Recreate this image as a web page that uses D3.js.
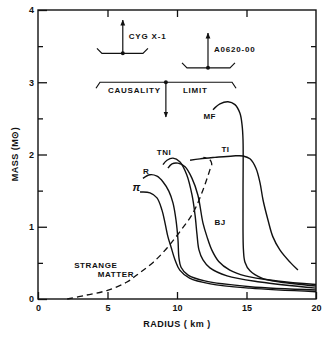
<!DOCTYPE html>
<html>
<head>
<meta charset="utf-8">
<script src="https://cdn.jsdelivr.net/npm/d3@7"></script>
<style>
  body { margin: 0; background: #fff; }
  text { font-family: "Liberation Sans", Arial, sans-serif; font-weight: bold; fill: #111; }
</style>
</head>
<body>
<script>
// axis ticks
const xTicks = [0, 5, 10, 15, 20];
const yTicks = [0, 1, 2, 3, 4];
const yMinor = [0.5, 1.5, 2.5, 3.5];

// mass-radius curves, [radius km, mass Msun]
const curvePi = [[7.34,1.48],[8.06,1.47],[8.56,1.40],[8.92,1.23],[9.14,1.05],[9.35,0.86],[9.57,0.72],[9.86,0.54],[10.2,0.40],[10.9,0.29],[12.4,0.21],[15.25,0.15],[20,0.10]];
const curveR = [[7.55,1.67],[8.06,1.72],[8.56,1.70],[9.0,1.62],[9.42,1.49],[9.71,1.33],[9.93,1.09],[10.07,0.82],[10.14,0.57],[10.29,0.44],[10.8,0.33],[12.0,0.25],[15.25,0.17],[20,0.125]];
const curveTNI = [[8.99,1.86],[9.28,1.92],[9.71,1.95],[10.2,1.90],[10.7,1.72],[11.08,1.44],[11.3,1.16],[11.44,0.89],[11.58,0.68],[11.87,0.54],[12.37,0.43],[13.6,0.32],[15.97,0.235],[20,0.15]];
const curveBJ = [[9.35,1.81],[9.64,1.87],[10.07,1.88],[10.58,1.83],[11.08,1.67],[11.5,1.44],[11.87,1.05],[12.16,0.86],[12.5,0.68],[13.0,0.52],[13.8,0.40],[14.9,0.32],[17.2,0.25],[20,0.20]];
const curveTI = [[10.94,1.92],[11.65,1.94],[12.73,1.96],[14.03,1.98],[14.75,1.98],[15.25,1.94],[15.68,1.81],[15.97,1.61],[16.19,1.37],[16.55,1.09],[16.9,0.86],[17.4,0.68],[18.13,0.51],[18.7,0.40]];
const curveMF = [[12.59,2.62],[13.09,2.70],[13.67,2.73],[14.17,2.69],[14.53,2.57],[14.68,2.41],[14.75,2.20],[14.75,1.37],[14.78,0.68],[14.89,0.51],[15.25,0.39],[16.1,0.29],[17.4,0.235],[20,0.18]];
const curveStrange = [[2.1,0.0],[3.5,0.055],[5.0,0.12],[6.4,0.235],[7.3,0.36],[8.3,0.51],[9.3,0.71],[10.2,0.93],[11.15,1.19],[11.87,1.51],[12.37,1.79],[12.5,1.87],[12.35,1.93],[11.9,1.96]];

// curve labels: name, radius, mass
const curveLabels = [["π",6.8,1.49],["R",7.55,1.73],["TNI",8.55,1.99],["BJ",12.7,1.02],["TI",13.2,2.03],["MF",11.9,2.49]];

// observational limits: name, radius of arrow, mass, bar from, bar to, arrow tip
const limitNames = ["CYG X-1", "A0620-00"];
const limitR = [6.1, 12.23];
const limitM = [3.40, 3.20];
const limitFrom = [4.6, 10.72];
const limitTo = [7.55, 13.81];
const limitTip = [3.86, 3.68];

// causality limit
const causalM = 3.0;
const causalFrom = 4.46;
const causalTo = 13.96;
const causalR = 9.2;
const causalTip = 2.52;

const svg = d3.select("body").append("svg")
  .attr("width", 327)
  .attr("height", 338);

const x = d3.scaleLinear().domain([0, 20]).range([38, 316]);
const y = d3.scaleLinear().domain([0, 4]).range([299, 10]);

// arrowhead
svg.append("defs").append("marker")
  .attr("id", "head")
  .attr("viewBox", "0 0 10 10")
  .attr("refX", 9).attr("refY", 5)
  .attr("markerWidth", 5).attr("markerHeight", 7)
  .attr("orient", "auto")
  .append("path")
  .attr("d", "M0,1L10,5L0,9Z")
  .attr("fill", "#111");

// frame
svg.append("rect")
  .attr("x", x(0)).attr("y", y(4))
  .attr("width", x(20) - x(0)).attr("height", y(0) - y(4))
  .attr("fill", "none").attr("stroke", "#111").attr("stroke-width", 1.4);

// axes with inward ticks
function styleAxis(g) {
  g.select(".domain").remove();
  g.selectAll("line").attr("stroke", "#111").attr("stroke-width", 1.3);
  g.selectAll("text").style("font-size", "9px").style("font-weight", "bold")
    .style("font-family", "'Liberation Sans', Arial, sans-serif").attr("fill", "#111");
}
svg.append("g").attr("transform", `translate(0,${y(0)})`)
  .call(d3.axisBottom(x).tickValues(xTicks).tickSize(-7).tickPadding(6).tickFormat(d3.format("d")))
  .call(styleAxis);
svg.append("g").attr("transform", `translate(0,${y(4)})`)
  .call(d3.axisTop(x).tickValues(xTicks.slice(1, -1)).tickSize(-7).tickFormat(""))
  .call(styleAxis);
svg.append("g").attr("transform", `translate(${x(0)},0)`)
  .call(d3.axisLeft(y).tickValues(yTicks).tickSize(-9).tickPadding(4).tickFormat(d3.format("d")))
  .call(styleAxis);
svg.append("g").attr("transform", `translate(${x(0)},0)`)
  .call(d3.axisLeft(y).tickValues(yMinor).tickSize(-5).tickFormat(""))
  .call(styleAxis);
svg.append("g").attr("transform", `translate(${x(20)},0)`)
  .call(d3.axisRight(y).tickValues(yTicks.slice(1, -1)).tickSize(-9).tickFormat(""))
  .call(styleAxis);
svg.append("g").attr("transform", `translate(${x(20)},0)`)
  .call(d3.axisRight(y).tickValues(yMinor).tickSize(-5).tickFormat(""))
  .call(styleAxis);

// axis titles
svg.append("text")
  .attr("x", x(10)).attr("y", 327)
  .attr("text-anchor", "middle")
  .style("font-size", "9px").style("letter-spacing", "0.5px")
  .text("RADIUS ( km )");
svg.append("text")
  .attr("transform", "translate(18,154)rotate(-90)")
  .attr("text-anchor", "middle")
  .style("font-size", "9px").style("letter-spacing", "0.5px")
  .text("MASS (M⊙)");

// curves
const line = d3.line()
  .x(d => x(d[0]))
  .y(d => y(d[1]))
  .curve(d3.curveCatmullRom.alpha(0.5));

[curvePi, curveR, curveTNI, curveBJ, curveTI, curveMF].forEach(c => {
  svg.append("path")
    .attr("d", line(c))
    .attr("fill", "none")
    .attr("stroke", "#111")
    .attr("stroke-width", 1.4);
});

svg.append("path")
  .attr("d", line(curveStrange))
  .attr("fill", "none")
  .attr("stroke", "#111")
  .attr("stroke-width", 1.3)
  .attr("stroke-dasharray", "6,4");

curveLabels.forEach(l => {
  svg.append("text")
    .attr("x", x(l[1])).attr("y", y(l[2]))
    .style("font-size", l[0] == "π" ? "11px" : "8px")
    .style("font-style", l[0] == "π" ? "italic" : "normal")
    .style("letter-spacing", "0.5px")
    .text(l[0]);
});

svg.append("text")
  .attr("x", x(2.6)).attr("y", y(0.43))
  .style("font-size", "8px").style("letter-spacing", "0.6px")
  .text("STRANGE");
svg.append("text")
  .attr("x", x(4.3)).attr("y", y(0.3))
  .style("font-size", "8px").style("letter-spacing", "0.6px")
  .text("MATTER");

// observational lower limits
limitNames.forEach((name, i) => {
  const ym = y(limitM[i]);
  svg.append("path")
    .attr("d", `M${x(limitFrom[i]) - 5},${ym - 5}L${x(limitFrom[i])},${ym}L${x(limitTo[i])},${ym}L${x(limitTo[i]) + 5},${ym - 5}`)
    .attr("fill", "none").attr("stroke", "#111").attr("stroke-width", 1.2);
  svg.append("line")
    .attr("x1", x(limitR[i])).attr("y1", ym)
    .attr("x2", x(limitR[i])).attr("y2", y(limitTip[i]))
    .attr("stroke", "#111").attr("stroke-width", 1.2)
    .attr("marker-end", "url(#head)");
  svg.append("circle")
    .attr("cx", x(limitR[i])).attr("cy", ym).attr("r", 2)
    .attr("fill", "#111");
  svg.append("text")
    .attr("x", x(limitR[i]) + 6).attr("y", y(limitTip[i]) + 19)
    .style("font-size", "8px").style("letter-spacing", "0.8px")
    .text(name);
});

// causality limit
const yc = y(causalM);
svg.append("path")
  .attr("d", `M${x(causalFrom) - 4},${yc + 6}L${x(causalFrom)},${yc}L${x(causalTo)},${yc}L${x(causalTo) + 4},${yc + 6}`)
  .attr("fill", "none").attr("stroke", "#111").attr("stroke-width", 1.2);
svg.append("line")
  .attr("x1", x(causalR)).attr("y1", yc)
  .attr("x2", x(causalR)).attr("y2", y(causalTip))
  .attr("stroke", "#111").attr("stroke-width", 1.2)
  .attr("marker-end", "url(#head)");
svg.append("circle")
  .attr("cx", x(causalR)).attr("cy", yc).attr("r", 2)
  .attr("fill", "#111");
svg.append("text")
  .attr("x", x(causalR) - 5).attr("y", yc + 11)
  .attr("text-anchor", "end")
  .style("font-size", "8px").style("letter-spacing", "0.8px")
  .text("CAUSALITY");
svg.append("text")
  .attr("x", x(causalR) + 17).attr("y", yc + 11)
  .style("font-size", "8px").style("letter-spacing", "0.8px")
  .text("LIMIT");
</script>
</body>
</html>
